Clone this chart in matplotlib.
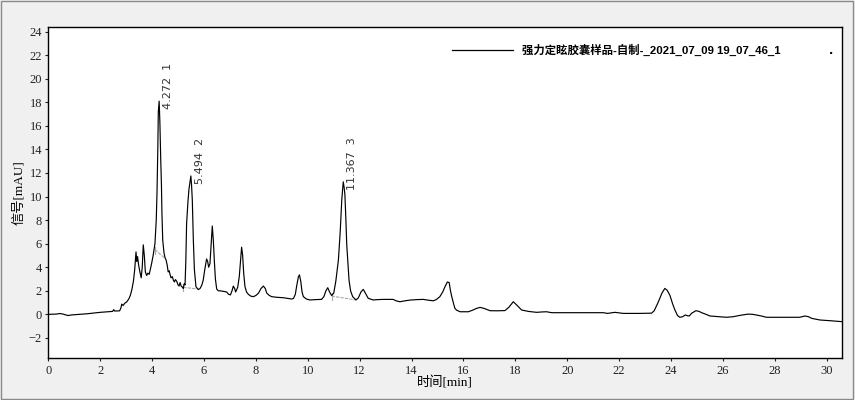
import numpy as np
import matplotlib
matplotlib.use("Agg")
import matplotlib.pyplot as plt
from matplotlib.lines import Line2D
from matplotlib.patches import Rectangle

# 色谱数据 (min, mAU)
time_min = [0.0, 0.30, 0.45, 0.55, 0.76, 0.9, 1.2, 1.5, 1.8, 2.0, 2.3, 2.48, 2.52, 2.56, 2.75,
            2.80, 2.83, 2.88, 2.95, 3.02, 3.10, 3.16, 3.22, 3.28, 3.33, 3.38, 3.41, 3.44, 3.48,
            3.53, 3.58, 3.62, 3.66, 3.70, 3.74, 3.79, 3.84, 3.89, 3.94, 3.98, 4.04, 4.11, 4.16,
            4.19, 4.22, 4.24, 4.272, 4.30, 4.33, 4.36, 4.38, 4.41, 4.46, 4.50, 4.54, 4.58, 4.62,
            4.66, 4.69, 4.73, 4.78, 4.82, 4.86, 4.90, 4.95, 5.00, 5.04, 5.08, 5.12, 5.17, 5.20,
            5.24, 5.27, 5.30, 5.33, 5.38, 5.42, 5.46, 5.494, 5.52, 5.55, 5.59, 5.63, 5.69, 5.78,
            5.85, 5.92, 5.97, 6.03, 6.10, 6.14, 6.18, 6.23, 6.28, 6.32, 6.36, 6.40, 6.44, 6.49,
            6.55, 6.62, 6.75, 6.87, 6.95, 7.02, 7.08, 7.13, 7.18, 7.22, 7.30, 7.36, 7.41, 7.45,
            7.49, 7.53, 7.58, 7.64, 7.71, 7.80, 7.90, 8.00, 8.10, 8.20, 8.29, 8.36, 8.42, 8.52,
            8.61, 8.80, 9.06, 9.25, 9.38, 9.45, 9.52, 9.58, 9.64, 9.68, 9.73, 9.78, 9.83, 9.95,
            10.08, 10.30, 10.53, 10.62, 10.70, 10.77, 10.84, 10.92, 11.00, 11.08, 11.18, 11.25,
            11.31, 11.367, 11.40, 11.43, 11.47, 11.50, 11.55, 11.59, 11.65, 11.73, 11.86, 11.95,
            12.05, 12.14, 12.22, 12.33, 12.52, 12.70, 12.91, 13.10, 13.29, 13.40, 13.55, 13.75,
            13.94, 14.2, 14.45, 14.65, 14.84, 14.95, 15.09, 15.20, 15.30, 15.38, 15.45, 15.50,
            15.55, 15.62, 15.67, 15.74, 15.87, 16.19, 16.35, 16.50, 16.64, 16.80, 17.02, 17.30,
            17.60, 17.75, 17.92, 18.05, 18.24, 18.50, 18.82, 19.00, 19.2, 19.4, 20.0, 20.7,
            21.39, 21.55, 21.84, 22.16, 22.8, 23.25, 23.35, 23.50, 23.65, 23.76, 23.85, 23.96,
            24.06, 24.15, 24.25, 24.34, 24.45, 24.55, 24.63, 24.70, 24.80, 24.96, 25.08, 25.18,
            25.35, 25.5, 26.14, 26.40, 26.65, 26.97, 27.15, 27.30, 27.50, 27.68, 28.96, 29.16,
            29.30, 29.42, 29.74, 30.13, 30.58]
signal_mau = [0.0, 0.02, 0.07, 0.03, -0.1, -0.05, 0.0, 0.05, 0.12, 0.17, 0.22, 0.25, 0.4, 0.28, 0.3,
              0.55, 0.87, 0.75, 0.95, 1.05, 1.3, 1.6, 2.1, 2.8, 3.8, 5.3, 4.5, 4.9, 4.2,
              3.6, 3.1, 4.0, 5.9, 5.0, 3.6, 3.3, 3.5, 3.4, 3.9, 4.3, 5.0, 6.0, 8.0,
              10.4, 14.0, 17.2, 18.1, 16.3, 13.4, 11.0, 8.5, 6.3, 5.2, 4.8, 4.6, 4.2, 3.6,
              3.7, 3.4, 3.1, 3.2, 2.9, 2.75, 2.95, 2.8, 2.5, 2.4, 2.7, 2.4, 2.3, 2.2,
              2.6, 2.5, 4.5, 7.7, 9.5, 10.6, 11.2, 11.75, 11.0, 9.7, 6.3, 3.8, 2.35, 2.1,
              2.2, 2.5, 2.9, 3.8, 4.7, 4.5, 4.0, 4.3, 6.0, 7.5, 6.3, 4.5, 3.0, 2.15,
              2.0, 2.0, 1.95, 1.9, 1.7, 1.65, 2.0, 2.4, 2.2, 1.9, 2.3, 3.2, 4.6, 5.7,
              5.0, 3.5, 2.35, 1.9, 1.7, 1.55, 1.5, 1.6, 1.8, 2.2, 2.4, 2.2, 1.8, 1.6,
              1.5, 1.45, 1.41, 1.35, 1.3, 1.35, 1.7, 2.5, 3.2, 3.35, 2.8, 1.9, 1.5, 1.3,
              1.22, 1.25, 1.27, 1.5, 2.0, 2.26, 1.9, 1.6, 1.8, 2.8, 4.6, 7.0,
              9.7, 11.25, 10.8, 10.2, 8.0, 6.0, 4.2, 2.9, 2.0, 1.5, 1.22, 1.4,
              1.9, 2.12, 1.8, 1.36, 1.22, 1.25, 1.27, 1.27, 1.27, 1.15, 1.07, 1.15,
              1.21, 1.25, 1.27, 1.2, 1.15, 1.25, 1.5, 1.9, 2.4, 2.75, 2.7, 2.0,
              1.5, 0.9, 0.51, 0.35, 0.22, 0.22, 0.35, 0.5, 0.59, 0.5, 0.31, 0.3,
              0.32, 0.6, 1.07, 0.8, 0.37, 0.25, 0.17, 0.2, 0.22, 0.14, 0.14, 0.14,
              0.14, 0.08, 0.17, 0.08, 0.08, 0.1, 0.3, 1.0, 1.8, 2.2, 2.05, 1.6,
              0.9, 0.37, -0.1, -0.25, -0.2, -0.05, -0.12, -0.14, 0.1, 0.31, 0.25, 0.14,
              0.0, -0.14, -0.25, -0.2, -0.09, 0.02, 0.0, -0.06, -0.15, -0.25, -0.25, -0.14,
              -0.2, -0.34, -0.48, -0.54, -0.62]

# 标记峰
peak_rt = [4.272, 5.494, 11.367]
peak_h = [18.1, 11.75, 11.25]
peak_no = [1, 2, 3]

# 积分基线 (起点, 终点)
base_t = [(4.11, 4.47), (5.20, 5.78), (10.92, 11.86)]
base_v = [(5.5, 4.8), (2.29, 2.15), (1.55, 1.22)]

legend_text = "强力定眩胶囊样品-自制-_2021_07_09 19_07_46_1"

bg = '#f0f0f0'
fig = plt.figure(figsize=(8.55, 4.0), dpi=100, facecolor=bg)
ax = fig.add_axes([0.0565, 0.1043, 0.928, 0.8275])
ax.set_facecolor('white')

ax.plot(time_min, signal_mau, color='black', lw=0.85, zorder=3)

for (t0, t1), (v0, v1) in zip(base_t, base_v):
    ax.plot([t0, t1], [v0, v1], color='#a8a8a8', lw=0.8, ls=(0, (3, 1)), zorder=2)
    ax.plot([t0, t0], [v0 - 0.35, v0 + 0.25], color='#a8a8a8', lw=0.8, zorder=2)

for rt, h, n in zip(peak_rt, peak_h, peak_no):
    ax.annotate(f"{rt:.3f}  {n}", xy=(rt, h), xytext=(3, -6), textcoords='offset points',
                rotation=90, ha='left', va='bottom', fontsize=8, color='#333333',
                family='DejaVu Sans')

ax.set_xlim(0, 30.58)
ax.set_ylim(-3.73, 24.37)
ax.set_xticks(np.arange(0, 31, 2))
ax.set_yticks(np.arange(-2, 25, 2))
ax.tick_params(direction='out', length=2, width=0.8, pad=2.5, colors='#222222', labelsize=9)
for lab in ax.get_xticklabels() + ax.get_yticklabels():
    lab.set_family('Liberation Serif')
for sp in ax.spines.values():
    sp.set_linewidth(1.0)
    sp.set_color('black')

ax.set_xlabel("时间[min]", family=['Liberation Serif', 'Noto Sans CJK SC'], fontsize=9.5, labelpad=0)
ax.set_ylabel("信号[mAU]", family=['Liberation Serif', 'Noto Sans CJK SC'], fontsize=9.5, labelpad=3)

# 图例
fig.add_artist(Line2D([452 / 855, 513 / 855], [1 - 50 / 400, 1 - 50 / 400], color='black', lw=0.9))
fig.text(522 / 855, 1 - 50 / 400, legend_text, ha='left', va='center', fontsize=8.2,
         fontweight='bold', family=['Liberation Sans', 'Noto Sans CJK SC'])
fig.text(831 / 855, 1 - 51 / 400, ".", ha='center', va='center', fontsize=8, fontweight='bold')

# 外框
fig.add_artist(Rectangle((0.001, 0.002), 0.997, 0.995, transform=fig.transFigure,
                         fill=False, edgecolor='#8a8a8a', lw=1.0))

fig.savefig("out.png", dpi=100, facecolor=bg)
